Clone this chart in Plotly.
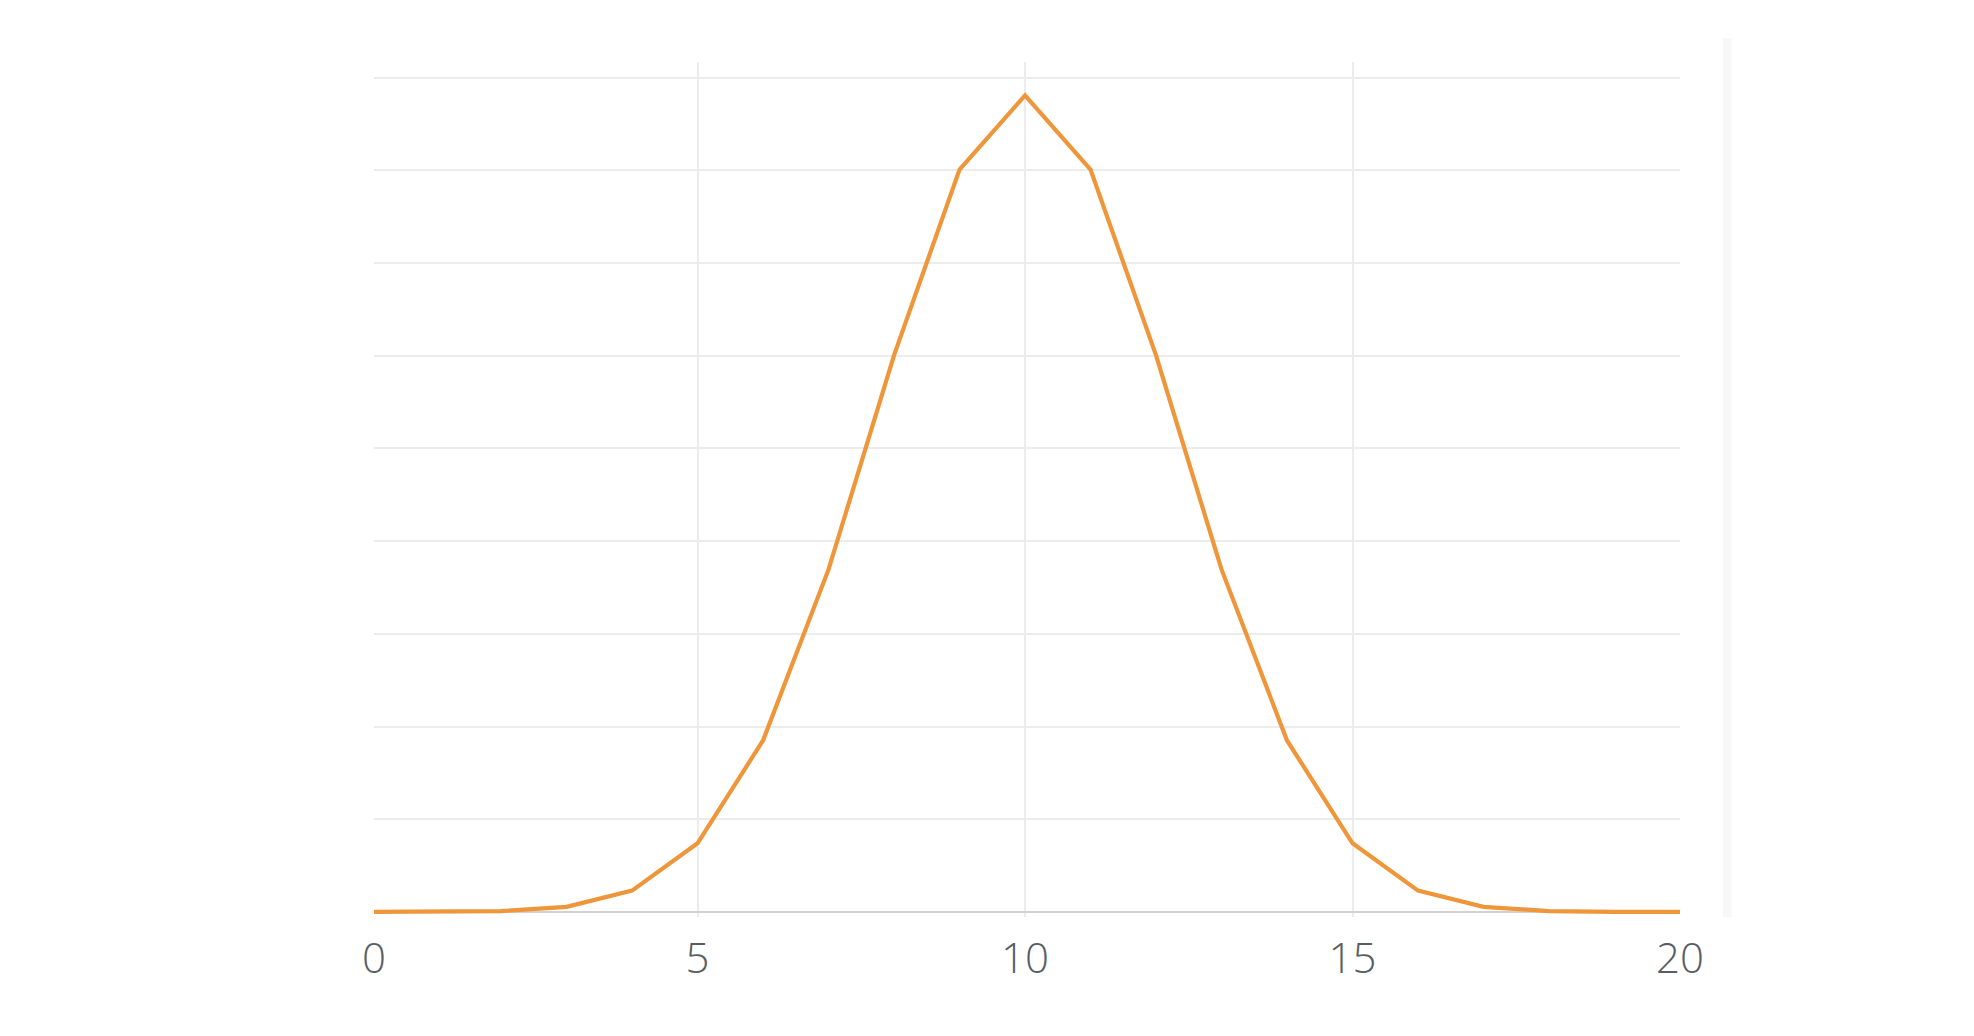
import plotly.graph_objects as go

# values
x_vals = list(range(0, 21))
y_vals = [0.000001, 0.000019, 0.00018, 0.0011, 0.0046, 0.0148, 0.0370, 0.0739,
          0.1201, 0.1602, 0.1762, 0.1602, 0.1201, 0.0739, 0.0370, 0.0148,
          0.0046, 0.0011, 0.00018, 0.000019, 0.000001]
x_tick_text = ["0", "5", "10", "15", "20"]
x_grid = [5, 10, 15]
y_grid = [0.02, 0.04, 0.06, 0.08, 0.10, 0.12, 0.14, 0.16, 0.18]

x_range = [0.06, 20]
y_range = [-0.0011, 0.1834]
x_tickvals = [x_range[0], 5, 10, 15, 20]

fig = go.Figure()
fig.add_trace(go.Scatter(x=x_vals, y=y_vals, mode="lines",
                         line=dict(color="#f0963a", width=4.2),
                         hoverinfo="skip", showlegend=False))

tickfont = dict(family="Open Sans", size=42, color="#585d64", weight=300)
fig.update_layout(
    width=1974, height=1036,
    margin=dict(l=366, r=302, t=54, b=127),
    paper_bgcolor="white", plot_bgcolor="white",
    font=dict(family="Open Sans", color="#50555c"),
    xaxis=dict(range=x_range, tickvals=x_tickvals, ticktext=x_tick_text,
               showgrid=False, zeroline=False,
               showline=False, ticks="outside", ticklen=5, tickcolor="rgba(0,0,0,0)",
               tickfont=tickfont),
    xaxis2=dict(range=x_range, overlaying="x", tickvals=x_grid, showgrid=True,
                gridcolor="#ececec", gridwidth=1.5, showticklabels=False,
                zeroline=False, side="bottom", matches="x"),
    yaxis=dict(range=y_range, tickvals=y_grid, showticklabels=False,
               showgrid=True, gridcolor="#ececec", gridwidth=1.5,
               zeroline=True, zerolinecolor="#d2d2d2", zerolinewidth=2),
    shapes=[dict(type="rect", xref="paper", yref="paper", x0=1.0329, x1=1.0395,
                 y0=0, y1=1.028, fillcolor="#f7f7f7", line=dict(width=0), layer="below")],
)
fig.add_trace(go.Scatter(x=[], y=[], xaxis="x2", showlegend=False))

fig.write_html("out.html")
